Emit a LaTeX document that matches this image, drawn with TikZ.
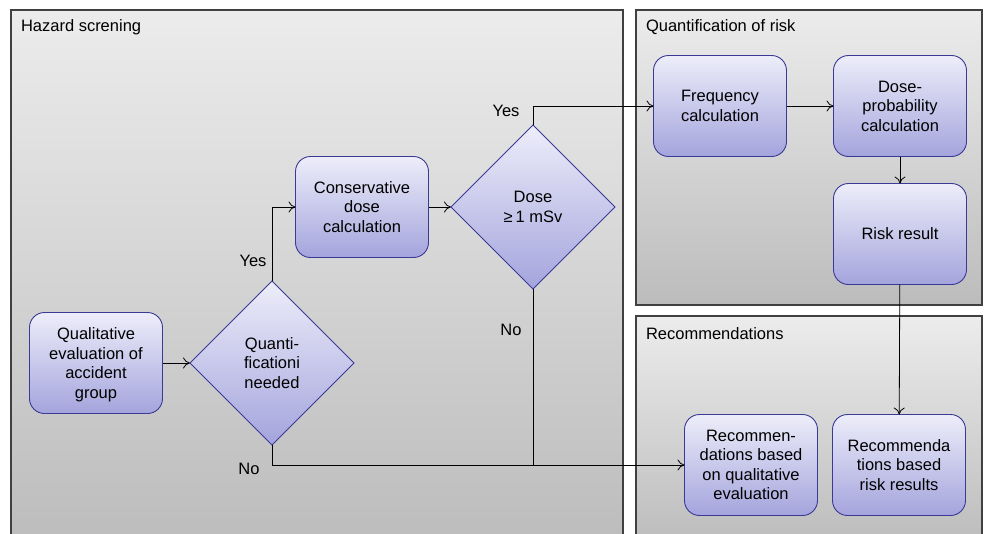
\documentclass[tikz,border=0pt]{standalone}
\usepackage{fontspec}
\setmainfont{Liberation Sans}
\usetikzlibrary{shapes.geometric,arrows.meta}
\definecolor{paneltop}{RGB}{236,236,236}
\definecolor{panelbot}{RGB}{188,188,188}
\definecolor{boxtop}{RGB}{237,237,250}
\definecolor{boxbot}{RGB}{164,164,221}
\definecolor{boxline}{RGB}{58,58,150}
\tikzstyle{every node}=[font=\fontsize{16.5}{19.5}\selectfont, inner sep=0, outer sep=0]
\tikzstyle{panel}=[draw=black!75, line width=1.1pt, top color=paneltop, bottom color=panelbot]
\tikzstyle{stepbox}=[draw=boxline, line width=.9pt, rounded corners=15pt, top color=boxtop, bottom color=boxbot, minimum width=133pt, minimum height=101pt, align=center, text depth=-2pt]
\tikzstyle{decision}=[diamond, aspect=1, draw=boxline, line width=.9pt, top color=boxtop, bottom color=boxbot, minimum width=164pt, minimum height=164pt, align=center]
\tikzstyle{flow}=[-{To[length=7pt,width=11pt]}, line width=.8pt]

\begin{document}
\begin{tikzpicture}[x=1pt, y=-1pt]
    \clip (0, 0) rectangle (984, 533);
    \fill[white] (0, 0) rectangle (984, 533);
    % the three swim lanes
    \draw[panel] (11, 10) rectangle (623, 545);
    \draw[panel] (636, 10) rectangle (982, 305);
    \draw[panel] (636, 316) rectangle (982, 545);
    \node[anchor=west] (hazard) at (21, 27) {Hazard screning};
    \node[anchor=west] (quantrisk) at (646, 27) {Quantification of risk};
    \node[anchor=west] (recs) at (646, 334) {Recommendations};

    % steps
    \node[stepbox] (qual) at (96, 363) {Qualitative\\evaluation of\\accident\\group};
    \node[decision] (quant) at (272, 363) {Quanti-\\ficationi\\needed};
    \node[stepbox] (cons) at (362, 207) {Conservative\\dose\\calculation};
    \node[decision] (dose) at (533, 207) {Dose\\≥\,1 mSv};
    \node[stepbox] (freq) at (720, 106) {Frequency\\calculation};
    \node[stepbox] (dprob) at (900, 106) {Dose-\\probability\\calculation};
    \node[stepbox] (risk) at (900, 234) {Risk result};
    \node[stepbox] (recq) at (751, 465) {Recommen-\\dations based\\on qualitative\\evaluation};
    \node[stepbox] (recr) at (899, 465) {Recommenda\\tions based\\risk results};

    % connectors
    \draw[flow] (qual) -- (quant);
    \draw[flow] (quant.north) |- (cons.west);
    \draw[flow] (quant.south) |- (recq.west);
    \draw[flow] (cons) -- (dose);
    \draw[flow] (dose.north) |- (freq.west);
    \draw[line width=.8pt] (dose.south) -- (dose.south |- recq.west);
    \draw[flow] (freq) -- (dprob);
    \draw[flow] (dprob) -- (risk);
    \draw[flow] (risk) -- (recr);

    \node (yes1) at (253, 261) {Yes};
    \node (no1) at (249, 469) {No};
    \node (yes2) at (506, 111) {Yes};
    \node (no2) at (511, 330) {No};
\end{tikzpicture}
\end{document}
